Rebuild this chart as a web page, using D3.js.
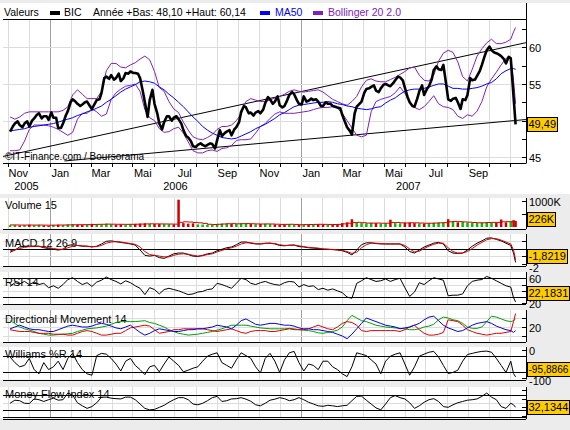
<!DOCTYPE html>
<html>
<head>
<meta charset="utf-8">
<script src="https://cdn.jsdelivr.net/npm/d3@7"></script>
<style>
  body { margin: 0; background: #ececec; }
  text { font-family: "Liberation Sans", Arial, sans-serif; }
</style>
</head>
<body>
<div class="chart"></div>
<script>
// weekly (friday) values of BIC, nov 2005 -> nov 2007
const dates = [
  "2005-11-04","2005-11-11","2005-11-18","2005-11-25","2005-12-02","2005-12-09","2005-12-16","2005-12-23","2005-12-30","2006-01-06",
  "2006-01-13","2006-01-20","2006-01-27","2006-02-03","2006-02-10","2006-02-17","2006-02-24","2006-03-03","2006-03-10","2006-03-17",
  "2006-03-24","2006-03-31","2006-04-07","2006-04-14","2006-04-21","2006-04-28","2006-05-05","2006-05-12","2006-05-19","2006-05-26",
  "2006-06-02","2006-06-09","2006-06-16","2006-06-23","2006-06-30","2006-07-07","2006-07-14","2006-07-21","2006-07-28","2006-08-04",
  "2006-08-11","2006-08-18","2006-08-25","2006-09-01","2006-09-08","2006-09-15","2006-09-22","2006-09-29","2006-10-06","2006-10-13",
  "2006-10-20","2006-10-27","2006-11-03","2006-11-10","2006-11-17","2006-11-24","2006-12-01","2006-12-08","2006-12-15","2006-12-22",
  "2006-12-29","2007-01-05","2007-01-12","2007-01-19","2007-01-26","2007-02-02","2007-02-09","2007-02-16","2007-02-23","2007-03-02",
  "2007-03-09","2007-03-16","2007-03-23","2007-03-30","2007-04-06","2007-04-13","2007-04-20","2007-04-27","2007-05-04","2007-05-11",
  "2007-05-18","2007-05-25","2007-06-01","2007-06-08","2007-06-15","2007-06-22","2007-06-29","2007-07-06","2007-07-13","2007-07-20",
  "2007-07-27","2007-08-03","2007-08-10","2007-08-17","2007-08-24","2007-08-31","2007-09-07","2007-09-14","2007-09-21","2007-09-28",
  "2007-10-05","2007-10-12","2007-10-19","2007-10-26","2007-11-02","2007-11-06","2007-11-09"
];
const close = [
  48.5,49.6,49.4,49.6,49.2,50.3,51.0,50.6,50.1,50.4,
  49.0,49.6,51.3,52.9,52.3,52.2,52.6,51.6,52.8,53.8,
  56.0,56.2,55.8,55.4,56.5,56.7,56.5,55.8,52.5,52.8,
  52.3,49.6,49.8,50.6,50.4,50.2,48.7,47.7,46.5,46.7,
  46.7,46.7,46.8,47.3,47.9,48.5,48.0,49.1,51.2,51.8,
  51.1,51.1,51.0,52.4,52.9,52.6,52.1,52.0,53.5,53.6,
  52.3,53.3,52.7,52.8,52.6,52.0,52.3,52.0,51.8,50.8,
  49.1,48.1,51.9,52.6,54.3,54.6,54.1,54.4,55.0,54.7,
  55.5,55.9,54.5,52.5,51.9,54.0,53.5,54.7,56.9,57.0,
  57.6,52.9,53.0,52.5,52.9,53.5,55.5,56.1,57.6,59.6,
  59.6,59.2,58.8,57.8,58.5,53.3,49.49
];
// mid-week (tuesday) closes, between the fridays above
const midDates = [
  "2005-11-08","2005-11-15","2005-11-22","2005-11-29","2005-12-06","2005-12-13","2005-12-20","2005-12-27",
  "2006-01-03","2006-01-10","2006-01-17","2006-01-24","2006-01-31","2006-02-07","2006-02-14","2006-02-21","2006-02-28",
  "2006-03-07","2006-03-14","2006-03-21","2006-03-28","2006-04-04","2006-04-11","2006-04-18","2006-04-25",
  "2006-05-02","2006-05-09","2006-05-16","2006-05-23","2006-05-30","2006-06-06","2006-06-13","2006-06-20","2006-06-27",
  "2006-07-04","2006-07-11","2006-07-18","2006-07-25","2006-08-01","2006-08-08","2006-08-15","2006-08-22","2006-08-29",
  "2006-09-05","2006-09-12","2006-09-19","2006-09-26","2006-10-03","2006-10-10","2006-10-17","2006-10-24","2006-10-31",
  "2006-11-07","2006-11-14","2006-11-21","2006-11-28","2006-12-05","2006-12-12","2006-12-19","2006-12-26",
  "2007-01-02","2007-01-09","2007-01-16","2007-01-23","2007-01-30","2007-02-06","2007-02-13","2007-02-20","2007-02-27",
  "2007-03-06","2007-03-13","2007-03-20","2007-03-27","2007-04-03","2007-04-10","2007-04-17","2007-04-24",
  "2007-05-01","2007-05-08","2007-05-15","2007-05-22","2007-05-29","2007-06-05","2007-06-12","2007-06-19","2007-06-26",
  "2007-07-03","2007-07-10","2007-07-17","2007-07-24","2007-07-31","2007-08-07","2007-08-14","2007-08-21","2007-08-28",
  "2007-09-04","2007-09-11","2007-09-18","2007-09-25","2007-10-02","2007-10-09","2007-10-16","2007-10-23","2007-10-30"
];
const midClose = [
  49.2,49.9,49.1,49.9,50.0,50.8,50.3,50.6,
  51.1,50.4,49.0,50.7,52.5,52.6,52.0,52.5,52.0,
  52.3,52.9,55.8,55.7,55.6,56.4,55.8,56.4,
  56.5,56.4,54.0,50.5,54.2,51.0,48.8,50.6,50.0,
  50.6,49.6,47.9,47.2,46.4,46.9,46.5,46.9,46.2,
  48.7,48.3,48.7,48.8,49.8,52.0,51.0,50.7,51.3,
  51.5,53.2,52.3,53.3,51.8,52.8,53.9,52.8,
  52.2,52.6,53.0,52.9,52.0,52.5,52.3,51.9,51.7,
  49.8,48.6,51.0,52.3,53.8,54.4,54.8,53.9,
  54.9,54.8,55.1,56.0,55.5,53.2,52.0,53.0,54.8,
  54.3,55.6,57.4,56.9,55.0,52.7,53.1,51.6,52.8,
  55.8,55.6,56.8,58.8,60.1,59.3,59.0,58.4,58.7
];
const ma50 = [
  48.6,48.7,48.8,48.9,49.1,49.2,49.3,49.4,49.5,49.6,
  49.8,50.0,50.2,50.4,50.7,50.9,51.2,51.4,51.7,52.0,
  52.5,52.9,53.4,53.9,54.3,54.6,54.9,55.3,55.4,55.3,
  55.1,54.6,54.2,53.6,53.1,52.5,51.9,51.2,50.5,49.9,
  49.2,48.7,48.3,48.0,47.7,47.6,47.5,47.6,47.9,48.2,
  48.5,48.9,49.2,49.5,49.9,50.3,50.8,51.1,51.5,51.9,
  52.1,52.2,52.3,52.4,52.5,52.5,52.6,52.5,52.3,52.2,
  52.0,51.9,51.7,51.6,51.5,51.6,51.8,51.9,52.4,52.8,
  53.1,53.6,54.0,54.2,54.3,54.3,54.4,54.6,54.8,55.0,
  55.0,54.7,54.4,54.4,54.3,54.3,54.4,54.5,54.7,55.0,
  55.2,55.7,56.4,56.8,57.1,57.1,57.0
];
const bollUp = [
  50.5,50.2,50.5,51.0,51.2,51.2,51.2,51.2,51.2,51.2,
  51.2,51.4,51.9,53.5,54.2,53.6,53.0,53.0,53.0,54.0,
  56.8,57.8,57.8,57.3,57.2,57.6,57.9,58.4,58.8,58.3,
  56.7,54.5,54.0,52.6,51.6,51.1,49.8,48.7,47.8,47.5,
  47.4,47.7,48.1,48.8,49.2,49.2,49.4,50.0,50.9,52.6,
  53.0,52.8,52.6,52.6,52.8,53.1,53.3,53.6,54.0,54.2,
  54.0,53.9,54.0,54.1,54.2,53.9,53.4,52.9,52.6,52.3,
  52.1,52.6,53.3,54.6,55.5,55.7,55.4,55.3,55.3,55.6,
  55.9,56.3,56.7,57.2,57.3,56.2,55.5,55.4,56.2,58.1,
  59.2,59.6,59.3,58.0,56.0,55.4,57.0,58.8,59.8,60.6,
  61.1,60.5,60.5,60.7,61.1,62.1,62.7
];
const bollLow = [
  45.9,45.9,46.0,47.2,48.8,49.4,49.4,49.4,49.3,49.1,
  48.8,48.4,48.0,48.4,50.2,51.0,51.0,51.6,51.2,50.6,
  50.9,52.9,53.8,54.3,54.7,54.8,55.0,54.0,51.5,50.4,
  50.0,48.9,48.4,48.5,48.9,49.1,48.3,47.1,45.9,45.6,
  45.6,45.9,46.0,45.8,46.2,46.3,46.6,47.3,47.4,47.4,
  47.5,48.3,49.2,49.6,50.3,50.9,51.2,51.0,51.0,51.0,
  51.1,51.2,51.3,51.5,51.7,51.8,51.8,51.9,51.7,51.0,
  50.0,49.0,48.0,47.8,48.0,51.2,52.6,52.9,53.1,53.3,
  53.8,54.6,53.7,52.6,51.8,51.5,51.9,52.6,53.4,52.3,
  51.9,51.8,51.5,50.6,50.3,50.8,50.6,51.3,52.6,54.6,
  55.7,56.6,57.6,58.5,58.6,55.5,52.3
];
// volume in thousands of shares, and its 15 day average
const volume = [
  70,80,60,75,90,70,85,60,50,80,
  90,75,100,110,95,85,90,120,110,100,
  130,105,90,100,95,110,120,130,140,125,
  115,120,110,105,100,1050,150,130,140,100,
  95,90,85,120,130,140,125,115,140,130,
  120,110,115,125,110,100,95,105,110,90,
  80,100,95,105,110,100,90,95,115,150,
  180,300,170,150,140,160,150,130,145,280,
  150,140,160,170,150,140,130,150,160,170,
  180,300,220,180,200,170,160,150,170,190,
  180,170,290,180,210,260,230
];
const volMa = [
  80,78,75,74,75,74,75,72,70,72,
  75,77,80,85,88,90,92,98,102,105,
  110,108,105,103,102,104,108,112,118,122,
  120,118,116,114,110,180,200,190,175,160,
  140,105,95,105,115,125,128,122,128,130,
  125,118,115,118,115,108,100,102,105,98,
  88,92,96,100,104,102,98,96,102,120,
  145,170,180,165,150,150,152,145,145,170,
  175,160,155,162,160,152,145,145,152,160,
  168,200,215,205,195,185,172,162,162,172,
  178,176,200,205,205,220,226
];
const macd = [
  -0.5,-0.2,0.2,0.3,0.3,0.3,0.3,0.1,0.0,-0.1,
  -0.2,-0.1,0.4,0.5,0.4,0.3,0.3,0.2,0.3,0.6,
  0.95,1.0,0.9,0.8,0.7,0.6,0.45,-0.2,-0.9,-1.0,
  -0.9,-1.2,-1.3,-1.0,-0.7,-0.6,-0.6,-0.8,-1.0,-1.05,
  -0.9,-0.7,-0.6,-0.3,-0.1,0.1,0.2,0.5,0.85,0.85,
  0.7,0.6,0.6,0.7,0.7,0.6,0.4,0.35,0.45,0.45,
  0.25,0.2,0.1,0.05,0.0,-0.1,-0.1,-0.15,-0.2,-0.3,
  -0.5,-0.85,-0.2,0.5,0.75,0.75,0.65,0.6,0.6,0.6,
  0.6,0.6,0.2,-0.4,-0.6,-0.2,0.2,0.45,0.7,0.8,
  0.6,-0.3,-0.6,-0.65,-0.6,-0.2,0.3,0.7,1.0,1.35,
  1.4,1.2,1.0,0.7,0.4,-0.6,-1.82
];
const macdSignal = [
  -0.3,-0.2,0.0,0.15,0.25,0.3,0.3,0.2,0.1,0.0,
  -0.1,-0.1,0.1,0.3,0.4,0.35,0.3,0.25,0.25,0.4,
  0.7,0.85,0.9,0.85,0.75,0.65,0.55,0.2,-0.4,-0.8,
  -0.9,-1.0,-1.1,-1.1,-0.9,-0.75,-0.7,-0.75,-0.9,-1.0,
  -0.95,-0.8,-0.7,-0.45,-0.25,-0.05,0.1,0.3,0.6,0.75,
  0.75,0.65,0.6,0.65,0.7,0.65,0.5,0.4,0.4,0.45,
  0.35,0.25,0.15,0.1,0.05,-0.05,-0.1,-0.12,-0.17,-0.25,
  -0.4,-0.65,-0.5,0.1,0.5,0.7,0.7,0.65,0.6,0.6,
  0.6,0.6,0.4,-0.05,-0.45,-0.35,0.0,0.3,0.55,0.7,
  0.7,0.1,-0.4,-0.6,-0.6,-0.4,0.0,0.45,0.8,1.15,
  1.3,1.3,1.1,0.85,0.6,-0.2,-1.5
];
const rsi = [
  47,53,51,55,50,54,50,52,45,48,
  44,50,58,61,55,50,53,47,54,57,
  62,58,55,51,56,53,48,44,34,45,
  42,35,42,44,42,40,37,34,35,38,
  39,42,43,52,50,47,44,52,60,58,
  52,50,53,55,52,50,49,53,55,54,
  46,50,47,48,42,44,41,43,40,37,
  30,28,52,56,61,58,55,56,59,55,
  58,60,45,31,38,53,50,56,61,59,
  57,32,33,33,35,48,55,57,58,63,
  60,56,52,48,46,29,22.18
];
const diPlus = [
  18,20,22,20,18,17,17,16,15,15,
  17,19,21,22,21,20,20,21,23,24,
  23,21,19,18,20,22,18,14,11,13,
  16,18,17,16,15,15,16,17,17,18,
  18,19,20,22,21,20,18,22,27,29,
  26,23,22,23,24,24,23,22,22,21,
  19,18,18,17,17,16,15,14,12,10,
  7,12,18,24,30,28,26,24,22,21,
  20,18,19,20,22,24,28,31,32,27,
  22,19,17,15,16,19,22,24,25,26,
  24,21,19,17,16,14,16
];
const diMinus = [
  17,16,15,15,15,14,13,13,13,12,
  12,12,11,11,13,15,16,15,13,11,
  11,12,13,13,16,19,20,21,22,21,
  17,13,14,15,17,17,18,18,18,18,
  18,17,16,15,16,17,18,16,14,13,
  15,16,16,16,15,15,16,17,18,17,
  17,17,18,20,22,20,18,17,20,24,
  26,25,22,16,15,16,16,16,16,16,
  16,15,17,20,22,17,13,11,11,12,
  14,28,27,26,22,17,15,13,12,11,
  12,13,13,14,15,26,35
];
const adx = [
  27,24,20,18,16.5,15,13,12,11,11,
  11.5,12,12.5,13,15,16.5,18,18.5,19,20,
  21,23,25,26,26,26,26,26.5,27,25,
  24,22,20,17,15,13,12,11,11.5,12,
  13,14,15,16.5,18,20,22,22,22,22,
  21,20,19,18.5,18,18,18,18,18.5,18,
  17,16.5,16,15,13.5,13,14,15,16.5,20,
  27,33,30,27,26,24,22,21,20,19.5,
  19,18.5,18,17,17,18,20,21,23,28,
  31,30,28,27,24,20,18.5,18.5,20,26,
  32,31,29,27,26,27,29
];
const willR = [
  -25,-45,-60,-55,-30,-70,-85,-45,-70,-60,
  -40,-70,-30,-12,-45,-70,-85,-90,-20,-12,
  -15,-30,-50,-75,-40,-30,-55,-70,-88,-60,
  -55,-78,-50,-25,-40,-55,-78,-72,-65,-60,
  -40,-22,-15,-10,-45,-55,-65,-35,-10,-20,
  -30,-60,-82,-30,-12,-40,-80,-35,-10,-5,
  -45,-75,-50,-55,-70,-40,-40,-60,-70,-85,
  -95,-60,-10,-15,-20,-35,-50,-85,-40,-22,
  -15,-10,-50,-90,-60,-22,-15,-8,-5,-25,
  -55,-84,-80,-72,-40,-16,-12,-8,-5,-4,
  -8,-30,-55,-80,-40,-84,-95.89
];
const mfi = [
  48,60,58,48,47,65,62,55,62,68,
  60,62,88,80,50,38,28,35,50,72,
  72,68,66,65,72,72,62,45,28,22,
  24,32,40,52,62,70,70,62,45,42,
  48,58,70,75,55,58,65,66,70,64,
  56,42,38,48,60,64,70,66,58,62,
  70,62,52,45,38,36,40,38,35,38,
  40,58,75,76,60,45,30,22,45,70,
  78,70,65,50,28,38,52,62,66,55,
  35,32,42,50,55,60,62,65,75,88,
  72,62,35,28,48,42,32.13
];

// trend lines drawn by hand on the chart: [date, price]
const trendUpper = [["2005-10-21", 45.04], ["2007-11-24", 60.63]];
const trendLower = [["2006-01-22", 44.5], ["2007-11-24", 50.15]];

const monthLabelDates = ["2005-11-16","2006-01-16","2006-03-16","2006-05-16","2006-07-16","2006-09-16",
  "2006-11-16","2007-01-16","2007-03-16","2007-05-16","2007-07-16","2007-09-16"];
const monthLabels = ["Nov","Jan","Mar","Mai","Jul","Sep","Nov","Jan","Mar","Mai","Jul","Sep"];
const yearLabels = ["2005","2006","2007"];
const priceTicks = [45, 50, 55, 60];

const width = 570, height = 430;
const left = 3, right = 526;
const parse = d3.timeParse('%Y-%m-%d');
const days = dates.map(parse);

const x = d3.scaleTime()
  .domain([new Date(2005, 10, 1), new Date(2007, 0, 1)])
  .range([8, 301]);

const svg = d3.select('.chart').append('svg')
  .attr('width', width)
  .attr('height', height)
  .style('display', 'block')

svg.append('rect').attr('width', width).attr('height', height).attr('fill', '#ececec')

const months = d3.timeMonth.range(new Date(2005, 10, 1), new Date(2007, 11, 1))
  .filter(d => x(d) > left && x(d) < right);

function panel(id, top, bottom, bg) {
  svg.append('rect')
    .attr('x', 0).attr('y', top)
    .attr('width', bg || right).attr('height', bottom - top)
    .attr('fill', '#fff')
  svg.append('clipPath').attr('id', id)
    .append('rect')
    .attr('x', left).attr('y', top)
    .attr('width', right - left).attr('height', bottom - top)
  svg.append('g').selectAll('line')
    .data(months)
    .enter().append('line')
    .attr('x1', d => Math.round(x(d)) + 0.5)
    .attr('x2', d => Math.round(x(d)) + 0.5)
    .attr('y1', top).attr('y2', bottom)
    .attr('stroke', d => d.getMonth() === 0 ? '#a0a0a0' : '#dcdcdc')
}

function hgrid(y, vals) {
  svg.append('g').selectAll('line')
    .data(vals)
    .enter().append('line')
    .attr('x1', left).attr('x2', right)
    .attr('y1', d => Math.round(y(d)) + 0.5)
    .attr('y2', d => Math.round(y(d)) + 0.5)
    .attr('stroke', '#dcdcdc')
}

function hline(yy, color) {
  svg.append('line')
    .attr('x1', left).attr('x2', right)
    .attr('y1', Math.round(yy) + 0.5).attr('y2', Math.round(yy) + 0.5)
    .attr('stroke', color || '#000')
}

// labels: [value, text, optional baseline shift]
function rightAxis(y, ticks, labels, top, bottom) {
  svg.append('line')
    .attr('x1', right + 0.5).attr('x2', right + 0.5)
    .attr('y1', top).attr('y2', bottom)
    .attr('stroke', '#000')
  svg.append('g').selectAll('line')
    .data(ticks)
    .enter().append('line')
    .attr('x1', right - 4).attr('x2', right)
    .attr('y1', d => Math.round(y(d)) + 0.5)
    .attr('y2', d => Math.round(y(d)) + 0.5)
    .attr('stroke', '#000')
  svg.append('g').selectAll('text')
    .data(labels)
    .enter().append('text')
    .attr('x', right + 3)
    .attr('y', d => y(d[0]) + (d[2] || 5))
    .style('font-size', '11px')
    .text(d => d[1])
}

function label(txt, yy) {
  svg.append('text').attr('x', 5).attr('y', yy)
    .style('font-size', '11px').text(txt)
}

function series(id, y, vals, color, w) {
  svg.append('path')
    .datum(vals)
    .attr('clip-path', `url(#${id})`)
    .attr('fill', 'none')
    .attr('stroke', color)
    .attr('stroke-width', w || 1)
    .attr('stroke-linejoin', 'round')
    .attr('d', d3.line().x((d, i) => x(days[i])).y(d => y(d)))
}

function valueBox(txt, cy) {
  const g = svg.append('g');
  const t = g.append('text')
    .attr('x', right + 2.5).attr('y', cy + 4)
    .style('font-size', '11px')
    .text(txt)
  let w = t.node().getComputedTextLength();
  const room = width - right - 4;
  if (w > room) {
    // squeeze long values so they stay inside the picture
    t.style('font-size', (11 * room / w).toFixed(2) + 'px');
    w = room;
  }
  g.insert('rect', 'text')
    .attr('x', right + 1.5).attr('y', Math.round(cy - 7) + 0.5)
    .attr('width', Math.round(w + 2.5)).attr('height', 14)
    .attr('fill', '#ffcc00').attr('stroke', '#000')
}

// ---------- main price chart ----------
svg.append('rect').attr('x', 0).attr('y', 3).attr('width', width).attr('height', 191).attr('fill', '#fff')
panel('clipMain', 19.5, 163.5, right);
const yMain = d3.scaleLinear().domain([45, 60]).range([157.3, 47.3]);
hgrid(yMain, priceTicks);

svg.append('text').attr('x', 5).attr('y', 160)
  .style('font-size', '10px').text('©IT-Finance.com / Boursorama')

const trend = d3.line().x(d => x(parse(d[0]))).y(d => yMain(d[1]));
[trendUpper, trendLower].forEach(t => {
  svg.append('path').attr('d', trend(t))
    .attr('clip-path', 'url(#clipMain)')
    .attr('fill', 'none').attr('stroke', '#000').attr('stroke-width', 1)
})

series('clipMain', yMain, bollUp, '#8020c0');
series('clipMain', yMain, bollLow, '#8020c0');
series('clipMain', yMain, ma50, '#0000ff');

// fridays and tuesdays together, in date order
const pricePts = days.map((d, i) => [d, close[i]])
  .concat(midDates.map((d, i) => [parse(d), midClose[i]]))
  .sort((a, b) => a[0] - b[0]);
svg.append('path')
  .datum(pricePts)
  .attr('clip-path', 'url(#clipMain)')
  .attr('fill', 'none')
  .attr('stroke', '#000')
  .attr('stroke-width', 2.6)
  .attr('stroke-linejoin', 'round')
  .attr('d', d3.line().x(d => x(d[0])).y(d => yMain(d[1])))

hline(19.3);
hline(163.3);
svg.append('line').attr('x1', right + 0.5).attr('x2', right + 0.5).attr('y1', 3).attr('y2', 19).attr('stroke', '#000')
// the 50 label sits under the last-price box in the original, so only 45/55/60 show
rightAxis(yMain, d3.range(45, 63, 2.5), [[45, '45'], [55, '55'], [60, '60']], 19, 163.5);

// month ticks and labels
svg.append('g').selectAll('line')
  .data(months)
  .enter().append('line')
  .attr('x1', d => Math.round(x(d)) + 0.5)
  .attr('x2', d => Math.round(x(d)) + 0.5)
  .attr('y1', 163.5).attr('y2', 167)
  .attr('stroke', '#000')
svg.append('g').selectAll('text')
  .data(monthLabels)
  .enter().append('text')
  .attr('x', (d, i) => x(parse(monthLabelDates[i])))
  .attr('y', 177)
  .attr('text-anchor', 'middle')
  .style('font-size', '11px')
  .text(d => d)
const jan06 = x(new Date(2006, 0, 1)), jan07 = x(new Date(2007, 0, 1));
const yearPos = [(left + jan06) / 2, (jan06 + jan07) / 2, (jan07 + x(days[days.length - 1])) / 2];
svg.append('g').selectAll('text')
  .data(yearLabels)
  .enter().append('text')
  .attr('x', (d, i) => yearPos[i])
  .attr('y', 190)
  .attr('text-anchor', 'middle')
  .style('font-size', '11px')
  .text(d => d)

// header legend
const header = [
  { t: 'Valeurs', x: 4, c: '#000' },
  { t: 'BIC', x: 64, c: '#000', sw: 50 },
  { t: 'Année +Bas: 48,10 +Haut: 60,14', x: 93, c: '#000' },
  { t: 'MA50', x: 275, c: '#0000ff', sw: 260 },
  { t: 'Bollinger 20 2.0', x: 328, c: '#8020c0', sw: 313 }
];
header.forEach(h => {
  svg.append('text').attr('x', h.x).attr('y', 15.5)
    .style('font-size', '10.5px').attr('fill', h.c).text(h.t)
  if (h.sw) svg.append('rect').attr('x', h.sw).attr('y', 11).attr('width', 10).attr('height', 4).attr('fill', h.c)
})
valueBox('49,49', Math.min(yMain(close[close.length - 1]), 153.5));

// ---------- volume ----------
panel('clipVol', 198, 229);
const yVol = d3.scaleLinear().domain([0, 1000]).range([227, 201]);
label('Volume 15', 209);
svg.append('g').attr('clip-path', 'url(#clipVol)').selectAll('rect')
  .data(volume)
  .enter().append('rect')
  .attr('x', (d, i) => x(days[i]) - 1.25)
  .attr('width', 2.5)
  .attr('y', d => yVol(d))
  .attr('height', d => yVol(0) - yVol(d))
  .attr('fill', (d, i) => i > 0 && close[i] < close[i - 1] ? '#d40000' : '#00c000')
svg.append('path').datum(volMa)
  .attr('clip-path', 'url(#clipVol)')
  .attr('fill', 'none').attr('stroke', '#d40000')
  .attr('d', d3.line().curve(d3.curveStepAfter).x((d, i) => x(days[i])).y(d => yVol(d)))
hline(229);
rightAxis(yVol, [1000, 500], [[1000, '1000K']], 198, 229);
valueBox('226K', Math.min(yVol(volMa[volMa.length - 1]), 219));

// ---------- MACD ----------
panel('clipMacd', 234, 266);
const yMacd = d3.scaleLinear().domain([-2, 1]).range([263.7, 240.9]);
hgrid(yMacd, [1, -1]);
label('MACD 12 26 9', 247);
hline(yMacd(0));
series('clipMacd', yMacd, macd, '#000');
series('clipMacd', yMacd, macdSignal, '#e00000');
hline(266);
rightAxis(yMacd, [1, 0, -1, -2], [[-2, '-2', 8]], 234, 266);
valueBox('-1,8219', Math.min(yMacd(macd[macd.length - 1]), 255.5));

// ---------- RSI ----------
panel('clipRsi', 272, 304);
const yRsi = d3.scaleLinear().domain([20, 60]).range([303.3, 278.3]);
hgrid(yRsi, [50, 40]);
label('RSI 14', 286);
hline(yRsi(60));
hline(yRsi(30));
series('clipRsi', yRsi, rsi, '#000');
hline(304);
rightAxis(yRsi, [60, 50, 40, 30, 20], [[60, '60'], [20, '20']], 272, 304);
valueBox('22,1831', Math.min(yRsi(rsi[rsi.length - 1]), 293));

// ---------- Directional movement ----------
panel('clipDm', 310, 342);
const yDm = d3.scaleLinear().domain([10, 30]).range([336, 318]);
hgrid(yDm, [30, 20, 10]);
label('Directional Movement 14', 323);
series('clipDm', yDm, adx, '#00a000');
series('clipDm', yDm, diMinus, '#e00000');
series('clipDm', yDm, diPlus, '#0000e0');
hline(342);
rightAxis(yDm, [30, 20, 10], [[20, '20']], 310, 342);

// ---------- Williams %R ----------
panel('clipWr', 347, 379.5);
const yWr = d3.scaleLinear().domain([-100, 0]).range([378, 350]);
label('Williams %R 14', 358);
hline(yWr(-20));
hline(yWr(-80));
series('clipWr', yWr, willR, '#000');
hline(379.5);
rightAxis(yWr, [0, -100], [[0, '0'], [-100, '-100', 7]], 347, 379.5);
valueBox('-95,8866', Math.min(yWr(willR[willR.length - 1]), 368.5));

// ---------- Money flow ----------
panel('clipMfi', 387, 418);
const yMfi = d3.scaleLinear().domain([0, 100]).range([415.5, 390]);
hgrid(yMfi, [50]);
label('Money Flow Index 14', 398);
hline(yMfi(80));
hline(yMfi(20));
series('clipMfi', yMfi, mfi, '#000');
hline(416.5);
hline(418.5);
rightAxis(yMfi, [100, 66, 33, 0], [], 387, 419);
valueBox('32,1344', Math.min(yMfi(mfi[mfi.length - 1]), 407));
</script>
</body>
</html>
